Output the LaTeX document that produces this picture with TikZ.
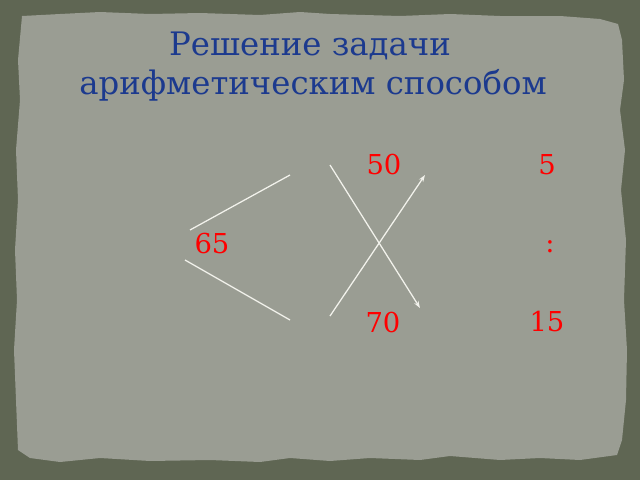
\documentclass[tikz,border=0pt]{standalone}
\usepackage{fontspec}
\setmainfont{DejaVu Serif}
\usetikzlibrary{arrows.meta}
\definecolor{frame}{HTML}{5F6653}
\definecolor{paper}{HTML}{9A9D93}
\definecolor{titleblue}{HTML}{1C3A8E}
\definecolor{chalk}{HTML}{F2F2EC}

\begin{document}
\begin{tikzpicture}[
    x=0.025cm, y=-0.025cm,
    head/.style={text=titleblue, font=\fontsize{23}{28}\selectfont, anchor=base, inner sep=0pt},
    num/.style={text=red, font=\fontsize{19.5}{23}\selectfont, anchor=base, inner sep=0pt},
    stroke/.style={draw=chalk, line width=0.9pt},
    trans/.style={stroke,-{Stealth[length=5pt,width=3.5pt]}}
    ]
    % background and torn paper
    \fill[frame] (0,0) rectangle (640,480);
    \fill[paper] (22,16) -- (60,14) -- (100,12) -- (150,14) -- (200,13) -- (260,15)
      -- (300,12) -- (330,14) -- (400,16) -- (450,14) -- (500,16) -- (560,16)
      -- (600,19) -- (618,24) -- (622,40) -- (624,80) -- (620,110) -- (625,150)
      -- (621,190) -- (626,240) -- (624,300) -- (627,350) -- (626,400) -- (622,440)
      -- (617,455) -- (580,460) -- (540,458) -- (500,460) -- (450,456) -- (420,460)
      -- (370,458) -- (330,461) -- (290,458) -- (260,462) -- (210,460) -- (150,461)
      -- (100,458) -- (60,462) -- (30,458) -- (18,450) -- (16,400) -- (14,350)
      -- (17,300) -- (15,250) -- (18,200) -- (16,150) -- (20,100) -- (18,60) -- cycle;
    % title
    \node[head] (title) at (310,56) {Решение задачи};
    \node[head] (subtitle) at (313,95) {арифметическим способом};
    % numbers
    \node[num] (n65) at (212,253) {65};
    \node[num] (n50) at (384,174) {50};
    \node[num] (n70) at (383,332) {70};
    \node[num] (n5) at (547,174) {5};
    \node[num] (div) at (550,252) {:};
    \node[num] (n15) at (547,331) {15};
    % line ends
    \coordinate (up1) at (190,230);
    \coordinate (up2) at (290,175);
    \coordinate (lo1) at (185,260);
    \coordinate (lo2) at (290,320);
    \coordinate (xa1) at (330,165);
    \coordinate (xa2) at (420,308);
    \coordinate (xb1) at (330,316);
    \coordinate (xb2) at (425,175);
    \draw[stroke] (up1) -- (up2);
    \draw[stroke] (lo1) -- (lo2);
    \draw[trans] (xa1) -- (xa2);
    \draw[trans] (xb1) -- (xb2);
  \end{tikzpicture}
\end{document}
